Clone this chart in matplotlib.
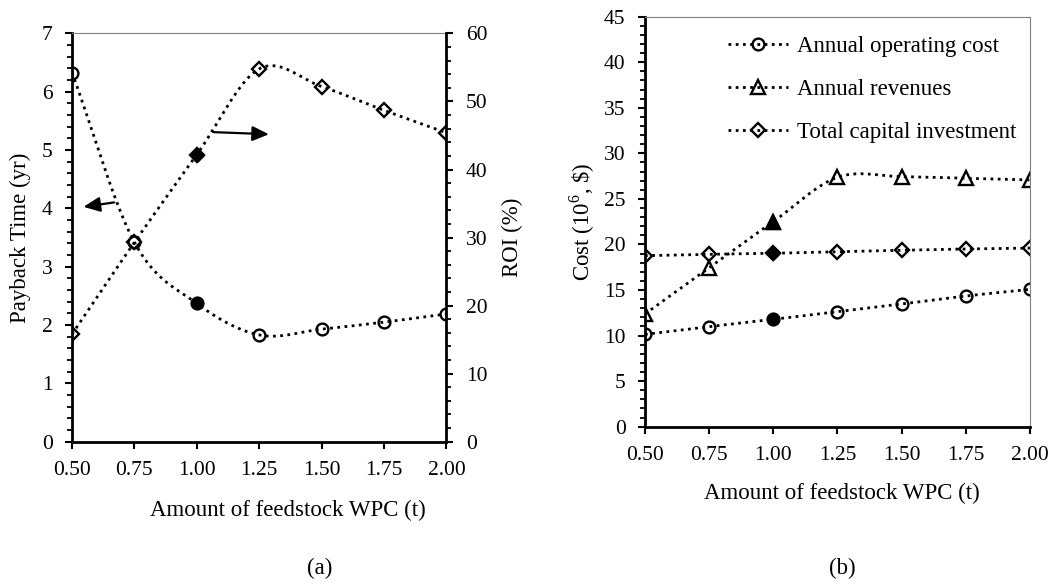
import numpy as np
import matplotlib
matplotlib.use("Agg")
import matplotlib.pyplot as plt
from matplotlib.ticker import MultipleLocator, FormatStrFormatter

# ==== DANE ====
FEED = [0.50, 0.75, 1.00, 1.25, 1.50, 1.75, 2.00]
HIGHLIGHT = 1.00  # punkt wyróżniony (pełny znacznik)

PAYBACK = [6.33, 3.42, 2.37, 1.83, 1.93, 2.05, 2.19]
ROI = [15.8, 29.3, 42.2, 54.8, 52.2, 48.7, 45.4]

OPER_COST = [10.13, 10.98, 11.78, 12.62, 13.46, 14.34, 15.07]
REVENUES = [12.37, 17.45, 22.5, 27.37, 27.44, 27.26, 27.08]
CAPITAL = [18.77, 18.92, 19.03, 19.2, 19.36, 19.5, 19.6]

LEGEND = ["Annual operating cost", "Annual revenues", "Total capital investment"]
XLABEL = "Amount of feedstock WPC (t)"

# ==== STYL ====
TICK_FS = 15.5
LABEL_FS = 16.5
LS = (0, (1, 1.6))
LW = 2.0
MS_O, MS_T, MS_D = 8.5, 9.5, 7.5
plt.rcParams["font.family"] = "Liberation Serif"
plt.rcParams["mathtext.fontset"] = "custom"
plt.rcParams["mathtext.rm"] = "Liberation Serif"


def smooth(x, y, n=24):
    # gładka linia jak w Excelu (Catmull-Rom) przez punkty danych
    x = np.asarray(x, float)
    y = np.asarray(y, float)
    xs, ys = [], []
    for i in range(len(x) - 1):
        p0 = i - 1 if i > 0 else i
        p3 = i + 2 if i + 2 < len(x) else i + 1
        mx0 = (x[i + 1] - x[p0]) / (i + 1 - p0)
        mx1 = (x[p3] - x[i]) / (p3 - i)
        my0 = (y[i + 1] - y[p0]) / (i + 1 - p0)
        my1 = (y[p3] - y[i]) / (p3 - i)
        t = np.linspace(0, 1, n, endpoint=False)
        h00 = 2 * t**3 - 3 * t**2 + 1
        h10 = t**3 - 2 * t**2 + t
        h01 = -2 * t**3 + 3 * t**2
        h11 = t**3 - t**2
        xs.append(h00 * x[i] + h10 * mx0 + h01 * x[i + 1] + h11 * mx1)
        ys.append(h00 * y[i] + h10 * my0 + h01 * y[i + 1] + h11 * my1)
    xs.append([x[-1]])
    ys.append([y[-1]])
    return np.concatenate(xs), np.concatenate(ys)


def series(ax, y, marker, ms):
    sx, sy = smooth(FEED, y)
    ax.plot(sx, sy, linestyle=LS, color="black", linewidth=LW)
    ax.plot(FEED, y, linestyle="none", marker=marker, markersize=ms,
            markerfacecolor="none", markeredgecolor="black", markeredgewidth=1.7)
    k = FEED.index(HIGHLIGHT)
    ax.plot([FEED[k]], [y[k]], linestyle="none", marker=marker, markersize=ms,
            markerfacecolor="black", markeredgecolor="black")


def style_axis(ax):
    ax.tick_params(axis="both", which="major", direction="out", length=5, width=1.5,
                   labelsize=TICK_FS, colors="black", pad=9)
    ax.tick_params(axis="both", which="minor", direction="out", length=3.5, width=1.3)
    ax.tick_params(axis="x", which="major", pad=9)
    ax.tick_params(axis="x", which="minor", bottom=False)
    ax.set_xlim(0.5, 2.0)
    ax.xaxis.set_major_locator(MultipleLocator(0.25))
    ax.xaxis.set_major_formatter(FormatStrFormatter("%.2f"))
    for s in ["left", "bottom"]:
        ax.spines[s].set_linewidth(2)
    for s in ["top", "right"]:
        ax.spines[s].set_linewidth(0.8)
        ax.spines[s].set_color("#808080")


fig = plt.figure(figsize=(10.62, 5.84), dpi=100)

# ==== (a) ====
ax1 = fig.add_axes([0.0678, 0.2437, 0.3526, 0.699])
style_axis(ax1)
ax1.set_ylim(0, 7)
ax1.yaxis.set_major_locator(MultipleLocator(1))
ax1.yaxis.set_minor_locator(MultipleLocator(0.2))
ax1.set_ylabel("Payback Time (yr)", fontsize=LABEL_FS, labelpad=8)
ax1.tick_params(axis="y", which="both", right=False)

ax2 = ax1.twinx()
ax2.set_ylim(0, 60)
ax2.yaxis.set_major_locator(MultipleLocator(10))
ax2.yaxis.set_minor_locator(MultipleLocator(2))
ax2.tick_params(axis="y", which="major", direction="out", length=5, width=1.5,
                labelsize=TICK_FS, pad=9)
ax2.tick_params(axis="y", which="minor", direction="out", length=3.5, width=1.3)
ax2.spines["right"].set_linewidth(2)
ax2.spines["right"].set_color("black")
ax2.spines["top"].set_visible(False)
ax2.spines["left"].set_visible(False)
ax2.spines["bottom"].set_visible(False)
ax2.set_ylabel("ROI (%)", fontsize=LABEL_FS, labelpad=10)

series(ax1, PAYBACK, "o", MS_O)
series(ax2, ROI, "D", MS_D)

arrow = dict(arrowstyle="-|>,head_length=1.0,head_width=0.45", color="black", lw=1.6)
ax1.annotate("", xy=(0.535, 4.02), xytext=(0.68, 4.11), arrowprops=arrow)
ax1.annotate("", xy=(1.30, 5.27), xytext=(1.055, 5.31), arrowprops=arrow)

# podpis osi X przesunięty jak w oryginale (środek obszaru wykresu z osią ROI)
fig.text(288 / 1062, 1 - 510 / 584, XLABEL, ha="center", va="center", fontsize=LABEL_FS)

# ==== (b) ====
ax3 = fig.add_axes([0.6073, 0.2694, 0.3625, 0.7021])
style_axis(ax3)
ax3.set_ylim(0, 45)
ax3.yaxis.set_major_locator(MultipleLocator(5))
ax3.yaxis.set_minor_locator(MultipleLocator(1))
ax3.tick_params(axis="y", which="both", right=False)
ax3.set_ylabel("Cost (10$^{6}$, \\$)", fontsize=LABEL_FS, labelpad=5)
fig.text(842 / 1062, 1 - 493 / 584, XLABEL, ha="center", va="center", fontsize=LABEL_FS)

handles = []
for vals, m, ms in [(OPER_COST, "o", MS_O), (REVENUES, "^", MS_T), (CAPITAL, "D", MS_D)]:
    series(ax3, vals, m, ms)
    h, = ax3.plot([], [], linestyle=LS, color="black", linewidth=LW, marker=m,
                  markersize=ms, markerfacecolor="none", markeredgecolor="black",
                  markeredgewidth=1.7)
    handles.append(h)
ax3.legend(handles, LEGEND, loc="upper left", frameon=False, fontsize=LABEL_FS,
           handlelength=2.6, handletextpad=0.4, labelspacing=0.95,
           borderaxespad=0, borderpad=0, bbox_to_anchor=(0.216, 0.952))

fig.text(320 / 1062, 1 - 568 / 584, "(a)", ha="center", va="center", fontsize=LABEL_FS)
fig.text(842 / 1062, 1 - 568 / 584, "(b)", ha="center", va="center", fontsize=LABEL_FS)

fig.savefig("out.png", dpi=100)
